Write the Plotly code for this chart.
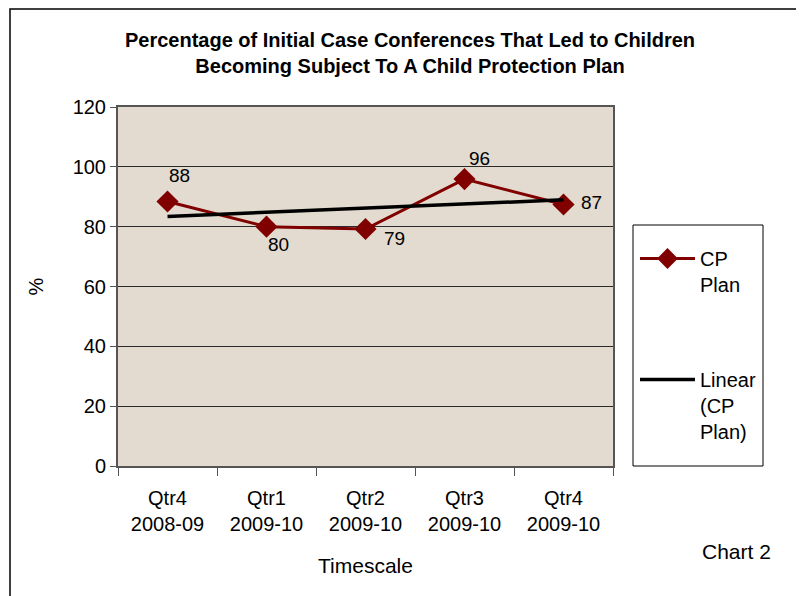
import numpy as np
import plotly.graph_objects as go

categories = ["Qtr4<br>2008-09", "Qtr1<br>2009-10", "Qtr2<br>2009-10", "Qtr3<br>2009-10", "Qtr4<br>2009-10"]
cp_plan = [88.4, 80.0, 79.2, 95.9, 87.4]
labels = ["88", "80", "79", "96", "87"]
label_shift_x = [12, 12, 29, 15, 28]
label_shift_y = [26, -18, -9, 21, 2]
y_ticks = [0, 20, 40, 60, 80, 100, 120]

xi = np.arange(len(cp_plan))
slope, intercept = np.polyfit(xi, cp_plan, 1)
trend = list(slope * xi + intercept)

W, H = 804, 596
OFF = 8  # page body margin
# plot area in screenshot pixels
X0, X1, Y0, Y1 = 118, 613, 107, 466
L = X0 - OFF
T = Y0 - OFF
R = W - (X1 - OFF)
B = H - (Y1 - OFF)
pw, ph = X1 - X0, Y1 - Y0

def px(x):
    return (x - X0) / pw

def py(y):
    return (Y1 - y) / ph

FONT = "Liberation Sans, Arial"

fig = go.Figure()
fig.add_trace(go.Scatter(
    x=categories, y=cp_plan, mode="lines+markers",
    name="CP<br>Plan", legendgroup="a",
    line=dict(color="#800000", width=3),
    marker=dict(symbol="diamond", size=17, color="#800000"),
))
fig.add_trace(go.Scatter(
    x=categories, y=trend, mode="lines",
    name="Linear<br>(CP<br>Plan)", legendgroup="b",
    line=dict(color="#000000", width=3.5),
))

for c, v, t, sx, sy in zip(categories, cp_plan, labels, label_shift_x, label_shift_y):
    fig.add_annotation(
        x=c, y=v, text=t, showarrow=False, xshift=sx, yshift=sy,
        xanchor="center", yanchor="middle",
        font=dict(family=FONT, size=19, color="#000000"),
    )

fig.update_layout(
    width=W, height=H,
    margin=dict(l=L, r=R, t=T, b=B),
    paper_bgcolor="#FFFFFF",
    plot_bgcolor="#E3DBCF",
    title=dict(
        text="<b>Percentage of Initial Case Conferences That Led to Children<br>Becoming Subject To A Child Protection Plan</b>",
        x=px(410), xanchor="center", xref="paper", y=1 - (47 - OFF) / H, yanchor="top",
        font=dict(family=FONT, size=20, color="#000000"),
    ),
    showlegend=True,
    legend=dict(
        x=px(635), y=py(239), xanchor="left", yanchor="top",
        bgcolor="rgba(0,0,0,0)", borderwidth=0,
        font=dict(family=FONT, size=20, color="#000000"),
        tracegroupgap=66, traceorder="grouped", itemwidth=55, valign="top",
    ),
    font=dict(family=FONT, size=20, color="#000000"),
)

fig.update_xaxes(
    type="category", range=[-0.5, 4.5],
    tickson="boundaries", ticks="outside", ticklen=8, tickcolor="#555555",
    showline=True, linecolor="#555555", linewidth=2, mirror=True,
    showgrid=False, ticklabelstandoff=13,
    tickfont=dict(family=FONT, size=20),
    title=dict(text="Timescale", standoff=24,
               font=dict(family=FONT, size=21)),
)
fig.update_yaxes(
    range=[0, 120], tickvals=y_ticks,
    ticks="outside", ticklen=6, tickcolor="#555555",
    showline=True, linecolor="#555555", linewidth=2, mirror=True,
    showgrid=True, gridcolor="#2a2a2a", gridwidth=1,
    zeroline=False,
    tickfont=dict(family=FONT, size=20),
    title=dict(text="%", standoff=24,
               font=dict(family=FONT, size=20)),
)

fig.add_annotation(
    text="Chart 2", xref="paper", yref="paper",
    x=px(736), y=py(551), xanchor="center", yanchor="middle",
    showarrow=False, font=dict(family=FONT, size=21, color="#000000"),
)

# legend frame
fig.add_shape(
    type="rect", xref="paper", yref="paper",
    x0=px(633), x1=px(763), y0=py(466), y1=py(225),
    line=dict(color="#000000", width=1), fillcolor="#FFFFFF", layer="below",
)
# outer chart border
fig.add_shape(
    type="rect", xref="paper", yref="paper",
    x0=px(10), x1=px(801), y0=py(640), y1=py(9),
    line=dict(color="#000000", width=1.5), fillcolor="rgba(0,0,0,0)", layer="above",
)

fig.write_html("out.html")
